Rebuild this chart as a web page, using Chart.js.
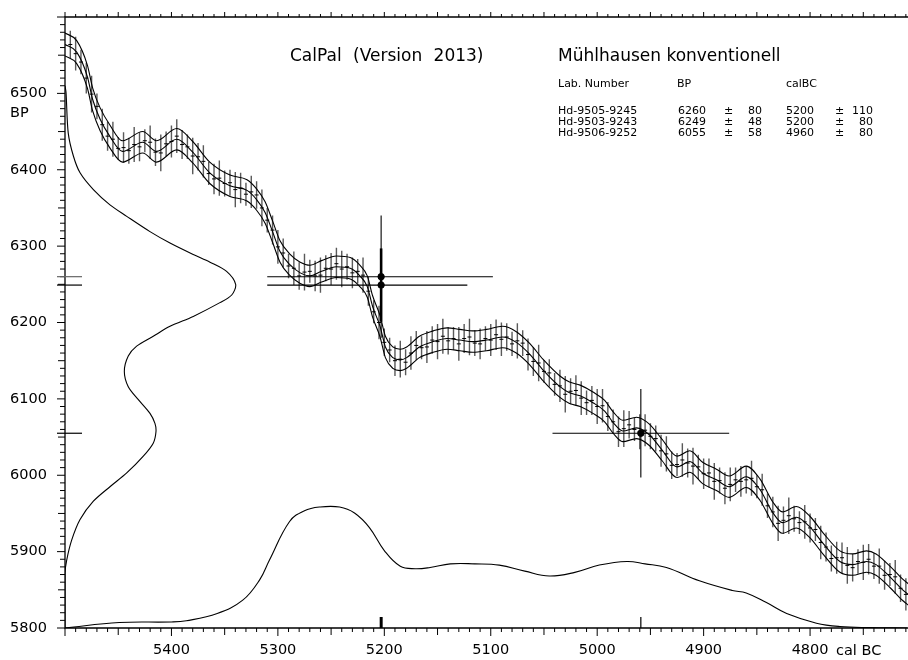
<!DOCTYPE html>
<html>
<head>
<meta charset="utf-8">
<script src="https://cdn.jsdelivr.net/npm/chart.js@4.4.1/dist/chart.umd.min.js"></script>
<style>
  body { margin: 0; background: #fff; }
  #wrap { position: relative; width: 908px; height: 660px; font-family: "DejaVu Sans", sans-serif; color: #000; }
  .t { position: absolute; white-space: pre; line-height: 1; }
</style>
</head>
<body>
<div id="wrap">
  <canvas id="calChart"></canvas>
  <div class="t" style="left:290px; top:47px; font-size:17px; word-spacing:6px;">CalPal (Version 2013)</div>
  <div class="t" style="left:558px; top:47px; font-size:17px;">Mühlhausen konventionell</div>
  <div class="t" style="left:10px; top:105px; font-size:14.5px;">BP</div>
  <div class="t" style="left:836px; top:643px; font-size:14.5px;">cal BC</div>
</div>
<script>
// axis labels
const xTickLabels = [5400, 5300, 5200, 5100, 5000, 4900, 4800];
const yTickLabels = [5800, 5900, 6000, 6100, 6200, 6300, 6400, 6500];

// calibration curve (cal BC, BP) and its 1-sigma band
const curveYear = [5500, 5489, 5479, 5474, 5467, 5458, 5446, 5427, 5414, 5395, 5380, 5364, 5345, 5329, 5320, 5312, 5305, 5298, 5289, 5279,
  5270, 5259, 5245, 5232, 5223, 5216, 5211, 5204, 5199, 5192, 5185, 5179, 5167, 5154, 5141, 5129, 5117, 5104, 5089, 5076,
  5063, 5051, 5035, 5026, 5016, 5004, 4993, 4985, 4976, 4963, 4951, 4939, 4925, 4913, 4901, 4888, 4876, 4860, 4847, 4835,
  4826, 4813, 4800, 4788, 4772, 4760, 4747, 4738, 4725, 4713, 4705];
const curveBP = [6564, 6554, 6522, 6492, 6466, 6444, 6424, 6436, 6424, 6440, 6423, 6396, 6379, 6373, 6361, 6344, 6319, 6293, 6276, 6265,
  6261, 6267, 6273, 6271, 6261, 6247, 6221, 6195, 6168, 6154, 6151, 6154, 6168, 6175, 6179, 6177, 6175, 6177, 6181, 6174,
  6158, 6138, 6116, 6108, 6104, 6095, 6084, 6069, 6058, 6062, 6053, 6033, 6011, 6018, 6003, 5994, 5985, 5998, 5981, 5951,
  5938, 5945, 5932, 5911, 5887, 5883, 5887, 5883, 5867, 5850, 5841];
const curveSigma = [15, 15, 15, 15, 15, 15, 14, 14, 14, 14, 14, 14, 14, 14, 14, 14, 14, 14, 14, 14,
  14, 14, 14, 14, 14, 14, 14, 14, 14, 14, 14, 14, 14, 14, 14, 14, 14, 14, 14, 14,
  14, 14, 14, 14, 14, 14, 14, 14, 14, 14, 14, 14, 14, 14, 14, 14, 14, 14, 14, 14,
  14, 14, 14, 14, 14, 14, 14, 14, 14, 14, 14];

// raw calibration data points with errors
const rawYear = [5495, 5490, 5485, 5480, 5475, 5470, 5465, 5460, 5455, 5450,
  5445, 5440, 5435, 5430, 5425, 5420, 5415, 5410, 5405, 5400,
  5395, 5390, 5385, 5380, 5375, 5370, 5365, 5360, 5355, 5350,
  5345, 5340, 5335, 5330, 5325, 5320, 5315, 5310, 5305, 5300,
  5295, 5290, 5285, 5280, 5275, 5270, 5265, 5260, 5255, 5250,
  5245, 5240, 5235, 5230, 5225, 5220, 5215, 5210, 5205, 5200,
  5195, 5190, 5185, 5180, 5175, 5170, 5165, 5160, 5155, 5150,
  5145, 5140, 5135, 5130, 5125, 5120, 5115, 5110, 5105, 5100,
  5095, 5090, 5085, 5080, 5075, 5070, 5065, 5060, 5055, 5050,
  5045, 5040, 5035, 5030, 5025, 5020, 5015, 5010, 5005, 5000,
  4995, 4990, 4985, 4980, 4975, 4970, 4965, 4960, 4955, 4950,
  4945, 4940, 4935, 4930, 4925, 4920, 4915, 4910, 4905, 4900,
  4895, 4890, 4885, 4880, 4875, 4870, 4865, 4860, 4855, 4850,
  4845, 4840, 4835, 4830, 4825, 4820, 4815, 4810, 4805, 4800,
  4795, 4790, 4785, 4780, 4775, 4770, 4765, 4760, 4755, 4750,
  4745, 4740, 4735, 4730, 4725, 4720, 4715, 4710];
const rawBP = [6564, 6552, 6541, 6520, 6499, 6483, 6459, 6444, 6440, 6428,
  6429, 6425, 6433, 6430, 6438, 6436, 6423, 6422, 6434, 6437,
  6444, 6433, 6430, 6418, 6417, 6411, 6395, 6388, 6389, 6382,
  6383, 6374, 6376, 6368, 6371, 6367, 6350, 6334, 6321, 6299,
  6291, 6274, 6271, 6261, 6266, 6267, 6261, 6262, 6271, 6270,
  6277, 6270, 6273, 6265, 6267, 6262, 6241, 6214, 6200, 6174,
  6164, 6150, 6152, 6148, 6160, 6170, 6167, 6168, 6177, 6175,
  6182, 6176, 6179, 6172, 6179, 6181, 6173, 6172, 6179, 6177,
  6184, 6178, 6181, 6172, 6176, 6173, 6158, 6149, 6147, 6136,
  6134, 6119, 6117, 6106, 6110, 6111, 6101, 6095, 6098, 6090,
  6091, 6077, 6070, 6057, 6061, 6066, 6060, 6057, 6059, 6051,
  6048, 6032, 6028, 6013, 6014, 6020, 6016, 6012, 6011, 6002,
  6003, 5992, 5993, 5983, 5988, 5994, 5992, 5994, 5996, 5985,
  5981, 5960, 5952, 5937, 5941, 5947, 5943, 5938, 5939, 5931,
  5929, 5912, 5906, 5891, 5892, 5892, 5882, 5879, 5887, 5886,
  5890, 5881, 5881, 5869, 5870, 5867, 5852, 5844];
const rawErr = [18, 22, 16, 20, 24, 17, 21, 19, 23, 15,
  20, 17, 23, 19, 15, 22, 18, 24, 16, 21,
  22, 19, 16, 24, 18, 21, 15, 20, 23, 17,
  17, 23, 20, 15, 21, 18, 24, 16, 19, 22,
  19, 16, 22, 18, 24, 15, 20, 23, 17, 21,
  21, 24, 17, 20, 16, 23, 19, 15, 22, 18,
  16, 20, 24, 17, 22, 19, 15, 21, 18, 23,
  23, 18, 15, 22, 19, 24, 17, 20, 16, 21,
  20, 22, 18, 16, 23, 17, 21, 19, 24, 15,
  18, 15, 21, 24, 17, 20, 22, 16, 19, 23,
  22, 19, 16, 20, 24, 18, 15, 23, 21, 17,
  17, 21, 23, 18, 15, 22, 19, 24, 16, 20,
  19, 24, 17, 21, 22, 16, 20, 18, 23, 15,
  21, 16, 20, 23, 18, 24, 17, 15, 22, 19,
  15, 22, 19, 17, 21, 20, 24, 18, 16, 23,
  20, 17, 23, 19, 15, 22, 18, 21];

// summed probability on the BP axis (relative)
const distBP = [6510, 6501, 6448, 6418, 6396, 6374, 6354, 6339, 6319, 6304, 6289, 6279, 6267, 6250, 6236, 6226, 6208, 6195,
  6182, 6169, 6156, 6136, 6116, 6099, 6081, 6068, 6057, 6042, 6025, 6003, 5985, 5966, 5942, 5915, 5889, 5872, 5800];
const distBPDensity = [0, 0.006, 0.019, 0.049, 0.088, 0.166, 0.263, 0.361, 0.497, 0.614, 0.75, 0.848, 0.945, 0.998, 0.975, 0.906,
  0.75, 0.614, 0.516, 0.419, 0.37, 0.347, 0.37, 0.429, 0.497, 0.526, 0.532, 0.516, 0.458, 0.361, 0.263, 0.166, 0.088, 0.039,
  0.01, 0, 0];

// summed calibrated probability (relative)
const distCalYear = [5500, 5449, 5400, 5386, 5357, 5333, 5317, 5308, 5289, 5275, 5261, 5242, 5228, 5214, 5200, 5185, 5171, 5157,
  5138, 5115, 5092, 5068, 5045, 5021, 4998, 4972, 4955, 4935, 4904, 4873, 4860, 4841, 4822, 4794, 4772, 4745, 4709];
const distCalDensity = [0, 0.045, 0.05, 0.06, 0.12, 0.23, 0.4, 0.56, 0.88, 0.97, 1.0, 1.0, 0.95, 0.83, 0.64, 0.51, 0.49, 0.5,
  0.53, 0.53, 0.52, 0.47, 0.43, 0.46, 0.52, 0.55, 0.53, 0.5, 0.39, 0.31, 0.29, 0.21, 0.12, 0.04, 0.012, 0.003, 0];

// dates
const labNumbers = ['Hd-9505-9245', 'Hd-9503-9243', 'Hd-9506-9252'];
const bpValues = [6260, 6249, 6055];
const bpErrors = [80, 48, 58];
const calValues = [5200, 5200, 4960];
const calErrors = [110, 80, 80];
const calPlotted = [5203, 5203, 4959];
const rangeFrom = [5310, 5310, 5042];
const rangeTo = [5098, 5122, 4876];

// results table
const wrap = document.getElementById('wrap');
function addText(txt, left, top, size, right) {
  const d = document.createElement('div');
  d.className = 't';
  d.style.top = top + 'px';
  d.style.fontSize = size + 'px';
  if (right) { d.style.right = (908 - left) + 'px'; } else { d.style.left = left + 'px'; }
  d.textContent = txt;
  wrap.appendChild(d);
}
addText('Lab. Number', 558, 77.5, 11);
addText('BP', 677, 77.5, 11);
addText('calBC', 786, 77.5, 11);
labNumbers.forEach((lab, i) => {
  const top = 104.7 + i * 11.3;
  addText(lab, 558, top, 11);
  addText(String(bpValues[i]), 678, top, 11);
  addText('±', 724, top, 11);
  addText(String(bpErrors[i]), 762, top, 11, true);
  addText(String(calValues[i]), 786, top, 11);
  addText('±', 835, top, 11);
  addText(String(calErrors[i]), 873, top, 11, true);
});

// build datasets
const pts = (xs, ys) => xs.map((x, i) => ({ x: x, y: ys[i] }));
const center = pts(curveYear, curveBP);
const upper = curveYear.map((x, i) => ({ x: x, y: curveBP[i] + curveSigma[i] }));
const lower = curveYear.map((x, i) => ({ x: x, y: curveBP[i] - curveSigma[i] }));

const rawBars = [];
rawYear.forEach((yr, i) => {
  rawBars.push({ x: yr, y: rawBP[i] - rawErr[i] }, { x: yr, y: rawBP[i] + rawErr[i] }, { x: yr, y: null });
});

const vThin = [], vThick = [], hLines = [];
bpValues.forEach((bp, i) => {
  const v = [{ x: calPlotted[i], y: bp - bpErrors[i] }, { x: calPlotted[i], y: bp + bpErrors[i] }, { x: calPlotted[i], y: null }];
  if (i === 1) vThick.push(...v); else vThin.push(...v);
  hLines.push({ x: rangeFrom[i], y: bp }, { x: rangeTo[i], y: bp }, { x: rangeTo[i], y: null });
});

const leftDist = distBP.map((bp, i) => ({ x: distBPDensity[i], y: bp }));
const bottomDist = pts(distCalYear, distCalDensity);

const thin = { pointRadius: 0, borderColor: '#000', borderWidth: 1.1, fill: false };

const calpalFrame = {
  id: 'calpalFrame',
  afterDatasetsDraw(chart) {
    const { ctx, chartArea: a, scales } = chart;
    const xs = scales.x, ys = scales.y;
    ctx.save();
    ctx.strokeStyle = '#000';
    ctx.lineWidth = 1.3;
    ctx.beginPath();
    ctx.moveTo(a.right, a.top);
    ctx.lineTo(a.left, a.top);
    ctx.lineTo(a.left, a.bottom);
    ctx.lineTo(a.right, a.bottom);
    ctx.stroke();

    ctx.lineWidth = 1;
    ctx.beginPath();
    for (let v = Math.ceil(xs.min / 10) * 10; v <= xs.max; v += 10) {
      const px = xs.getPixelForValue(v);
      const down = v % 100 === 0 ? 8 : v % 50 === 0 ? 7 : 4;
      const up = v % 50 === 0 ? 5 : 3;
      ctx.moveTo(px, a.bottom); ctx.lineTo(px, a.bottom + down);
      ctx.moveTo(px, a.top); ctx.lineTo(px, a.top - up);
    }
    for (let v = ys.min; v <= ys.max; v += 10) {
      const py = ys.getPixelForValue(v);
      const len = v % 100 === 0 ? 8 : v % 50 === 0 ? 7 : 5;
      ctx.moveTo(a.left, py); ctx.lineTo(a.left - len, py);
    }
    ctx.stroke();

    // date marks on both axes
    bpValues.forEach((bp, i) => {
      const py = ys.getPixelForValue(bp);
      ctx.strokeStyle = i === 0 ? '#666' : '#000';
      ctx.lineWidth = 1.2;
      ctx.beginPath();
      ctx.moveTo(a.left - 8, py); ctx.lineTo(a.left + 17, py);
      ctx.stroke();
    });
    calPlotted.forEach(c => {
      const px = xs.getPixelForValue(c);
      ctx.strokeStyle = '#000';
      ctx.lineWidth = calPlotted.filter(o => o === c).length > 1 ? 2.6 : 1.2;
      ctx.beginPath();
      ctx.moveTo(px, a.bottom); ctx.lineTo(px, a.bottom - 11);
      ctx.stroke();
    });
    ctx.restore();
  }
};

const tickFont = { family: 'DejaVu Sans', size: 14.5 };
const noPad = s => { s.paddingTop = 0; s.paddingBottom = 0; s.paddingLeft = 0; s.paddingRight = 0; };

new Chart(document.getElementById('calChart'), {
  type: 'line',
  data: {
    datasets: [
      { data: pts(calPlotted, bpValues), showLine: false, pointRadius: 3.2, pointBackgroundColor: '#000', pointBorderColor: '#000' },
      { data: vThick, ...thin, borderWidth: 2.6 },
      { data: vThin, ...thin },
      { data: hLines, ...thin },
      { data: pts(rawYear, rawBP), showLine: false, pointStyle: 'line', pointRadius: 2, pointBorderWidth: 1, pointBorderColor: '#000' },
      { data: center, ...thin, cubicInterpolationMode: 'monotone' },
      { data: upper, ...thin, cubicInterpolationMode: 'monotone' },
      { data: lower, ...thin, cubicInterpolationMode: 'monotone' },
      { data: rawBars, ...thin, borderColor: '#5a5a5a', borderWidth: 1.4 },
      { data: leftDist, ...thin, xAxisID: 'xd', tension: 0.3 },
      { data: bottomDist, ...thin, yAxisID: 'yd', tension: 0.4 }
    ]
  },
  options: {
    responsive: true,
    maintainAspectRatio: false,
    animation: false,
    layout: { autoPadding: false, padding: { top: 17, left: 0, right: 0, bottom: 0 } },
    plugins: { legend: { display: false }, tooltip: { enabled: false } },
    scales: {
      x: {
        type: 'linear', position: 'bottom', reverse: true, min: 4708, max: 5500,
        afterBuildTicks: s => { s.ticks = xTickLabels.map(v => ({ value: v })); },
        afterFit: s => { s.height = 32; noPad(s); },
        ticks: { callback: v => String(v), font: tickFont, color: '#000', padding: 14, autoSkip: false, maxRotation: 0 },
        grid: { display: false, drawTicks: false },
        border: { display: false }
      },
      y: {
        type: 'linear', position: 'left', min: 5800, max: 6600,
        afterBuildTicks: s => { s.ticks = yTickLabels.map(v => ({ value: v })); },
        afterFit: s => { s.width = 65; noPad(s); },
        ticks: { callback: v => String(v), font: tickFont, color: '#000', padding: 18, autoSkip: false },
        grid: { display: false, drawTicks: false },
        border: { display: false }
      },
      xd: { type: 'linear', axis: 'x', display: false, min: 0, max: 4.93 },
      yd: { type: 'linear', axis: 'y', display: false, min: 0, max: 5.05 }
    }
  },
  plugins: [calpalFrame]
});
</script>
</body>
</html>
